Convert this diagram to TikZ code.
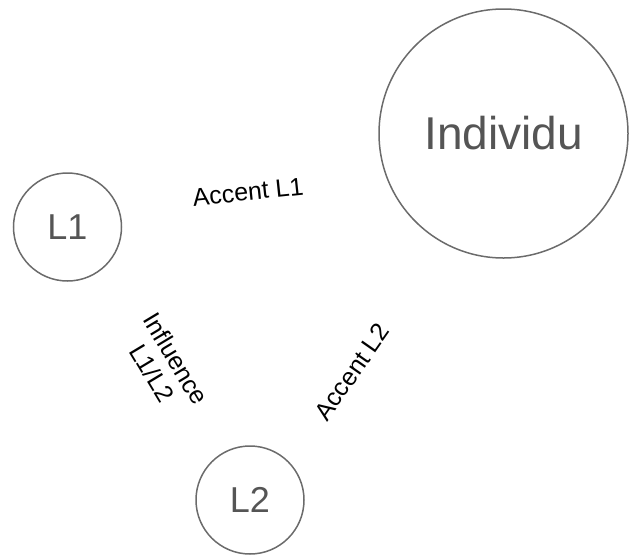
\documentclass[tikz,border=0pt]{standalone}
\usepackage{fontspec}
\setmainfont{Liberation Sans}
\usetikzlibrary{positioning}

\definecolor{ringgray}{HTML}{6B6B6B}
\definecolor{textgray}{HTML}{555555}

\tikzset{
	lang/.style={circle,draw=ringgray,line width=1.5pt,inner sep=0pt,
		minimum size=108pt,text=textgray,font=\fontsize{36}{38}\selectfont},
	self/.style={lang,minimum size=249pt,font=\fontsize{46}{48}\selectfont},
	tag/.style={inner sep=0pt,align=center,font=\fontsize{25}{28}\selectfont},
}

\begin{document}
\begin{tikzpicture}[x=1pt,y=-1pt]
	\useasboundingbox (0,0) rectangle (629,555);
	
	\node [lang] (l1) at (67.5,227) {L1};
	\node [self] (indiv) at (503.5,133.5) {Individu};
	\node [lang] (l2) at (250,500) {L2};
	
	\node [tag,rotate=6] (acc1) at (248,192) {Accent L1};
	\node [tag,rotate=-59] (infl) at (164,366) {Influence\\L1/L2};
	\node [tag,rotate=55] (acc2) at (352,372) {Accent L2};
\end{tikzpicture}
\end{document}
